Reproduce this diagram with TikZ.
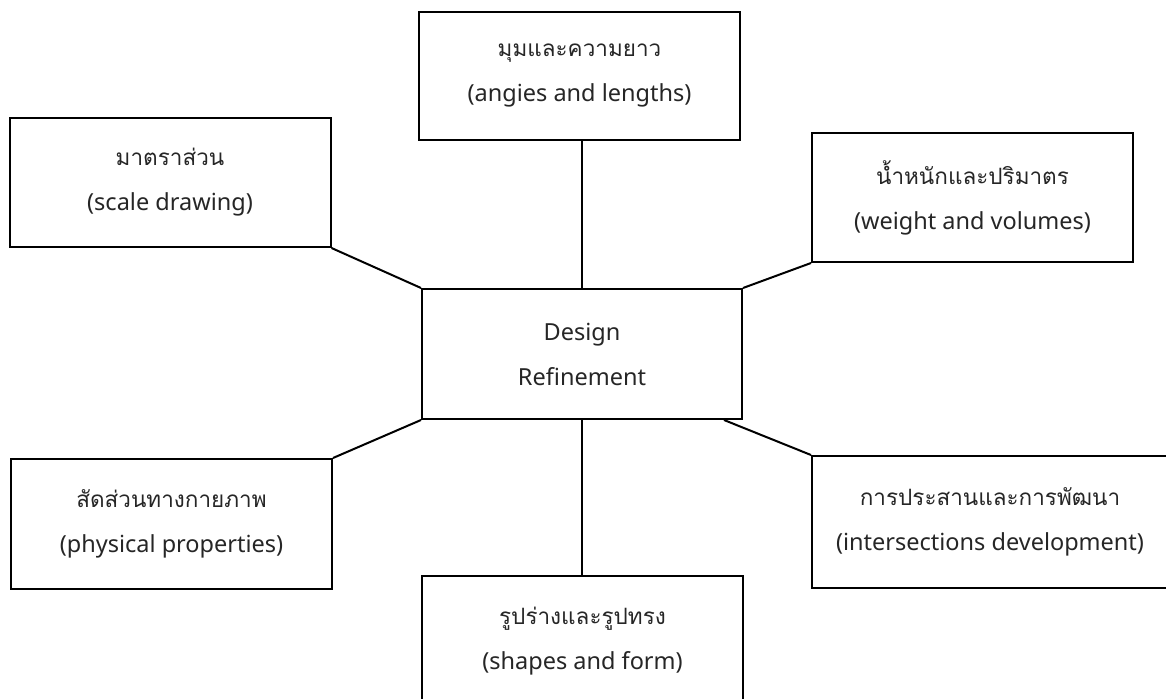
\documentclass[tikz,border=0pt]{standalone}
\usepackage{fontspec}
\setmainfont{Noto Sans}
\newfontfamily\thaifont[Script=Thai]{Loma}
\newcommand\thaitext[1]{{\thaifont\fontsize{22.5}{45}\selectfont #1}}
\usetikzlibrary{calc}
\begin{document}
\begin{tikzpicture}[x=1pt,y=-1pt,
  box/.style={draw=black, line width=2pt, rectangle, inner sep=0pt,
    minimum width=321pt, minimum height=129pt, align=center,
    text=black!85, font=\fontsize{23.5}{45}\selectfont},
  link/.style={draw=black, line width=2pt}]
\useasboundingbox (0,0) rectangle (1166,698);
\fill[white] (0,0) rectangle (1166,698);

% central topic
\node[box, minimum width=320pt, minimum height=130pt] (centre) at (582,354)
  {Design\\Refinement};

% surrounding aspects
\node[box] (scale) at (170,182.5)
  {\thaitext{มาตราส่วน}\\(scale drawing)};
\node[box, minimum height=128pt] (angles) at (579.5,76)
  {\thaitext{มุมและความยาว}\\(angies and lengths)};
\node[box] (weight) at (972.5,197.5)
  {\thaitext{น้ำหนักและปริมาตร}\\(weight and volumes)};
\node[box, minimum height=130pt] (physical) at (171.5,524)
  {\thaitext{สัดส่วนทางกายภาพ}\\(physical properties)};
\node[box, minimum width=356pt, minimum height=132pt] (inter) at (990,522)
  {\thaitext{การประสานและการพัฒนา}\\(intersections development)};
\node[box, minimum height=130pt] (shapes) at (582.5,641)
  {\thaitext{รูปร่างและรูปทรง}\\(shapes and form)};

% connectors
\coordinate (centreSE) at ($(centre.south east)+(-19,0)$);
\draw[link] (scale.south east) -- (centre.north west);
\draw[link] (angles.south -| centre.north) -- (centre.north);
\draw[link] (weight.south west) -- (centre.north east);
\draw[link] (centre.south west) -- (physical.north east);
\draw[link] (centreSE) -- (inter.north west);
\draw[link] (centre.south) -- (shapes.north -| centre.south);
\end{tikzpicture}
\end{document}
